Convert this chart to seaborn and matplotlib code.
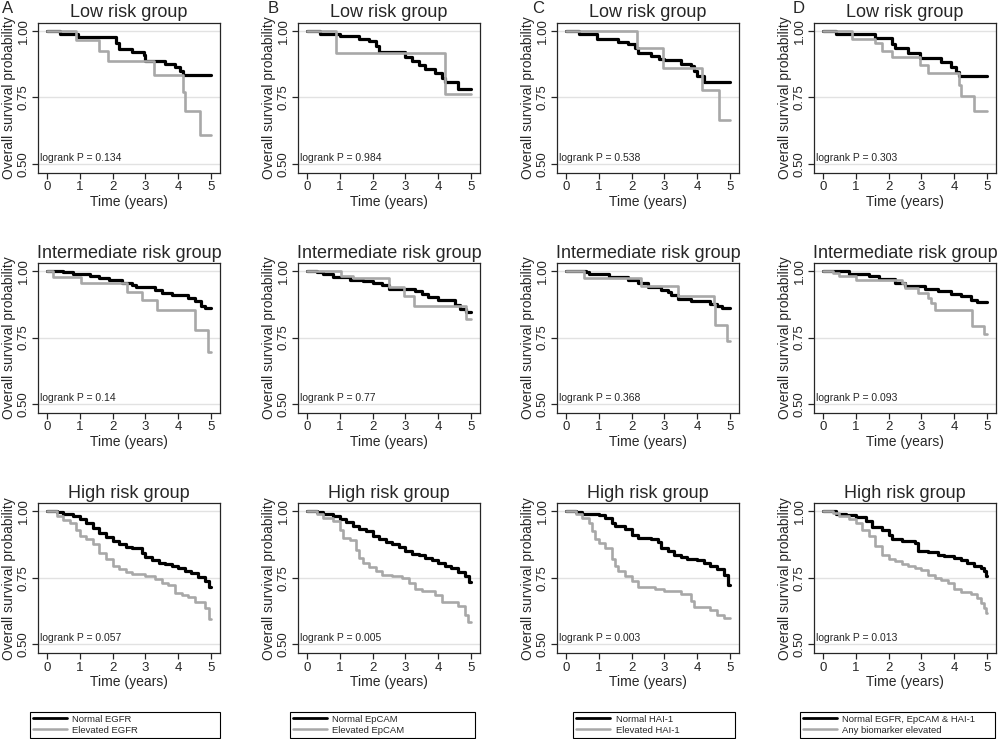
import matplotlib
matplotlib.use("Agg")
import matplotlib.pyplot as plt
from matplotlib.lines import Line2D
import seaborn as sns
import pandas as pd

# ---- data (time in years, survival probability) ----
# Low risk group
a_low_norm_t = [0, 0.4, 0.95, 2.1, 2.2, 2.6, 2.95, 3.0, 3.6, 3.9, 4.05, 4.15, 5.0]
a_low_norm_s = [1, .989, .978, .956, .933, .922, .91, .888, .876, .863, .85, .834, .834]
a_low_elev_t = [0, 0.9, 1.6, 1.85, 3.25, 4.15, 4.2, 4.65, 5.0]
a_low_elev_s = [1, .964, .924, .888, .836, .77, .698, .61, .61]

b_low_norm_t = [0, 0.4, 1.0, 1.6, 1.9, 2.1, 2.2, 3.0, 3.2, 3.4, 3.6, 3.9, 4.1, 4.2, 4.6, 5.0]
b_low_norm_s = [1, .99, .98, .97, .961, .942, .921, .902, .886, .873, .858, .842, .823, .808, .782, .782]
b_low_elev_t = [0, 0.9, 4.2, 5.0]
b_low_elev_s = [1, .917, .761, .761]

c_low_norm_t = [0, 0.4, 0.95, 1.6, 1.9, 2.1, 2.2, 2.6, 2.85, 3.0, 3.5, 3.8, 3.9, 4.0, 4.2, 5.0]
c_low_norm_s = [1, .99, .97, .96, .951, .935, .917, .907, .895, .89, .877, .867, .848, .832, .808, .808]
c_low_elev_t = [0, 2.15, 2.95, 4.15, 4.65, 5.0]
c_low_elev_s = [1, .935, .862, .777, .664, .664]

d_low_norm_t = [0, 0.4, 1.6, 2.1, 2.2, 2.6, 2.95, 3.6, 3.9, 4.05, 4.15, 5.0]
d_low_norm_s = [1, .989, .974, .952, .934, .917, .899, .883, .863, .845, .832, .832]
d_low_elev_t = [0, 0.9, 1.6, 1.8, 2.1, 2.95, 3.2, 4.15, 4.2, 4.6, 5.0]
d_low_elev_s = [1, .97, .955, .924, .902, .87, .84, .795, .754, .70, .70]

# Intermediate risk group
a_int_norm_t = [0, 0.5, 0.8, 1.3, 1.6, 1.9, 2.3, 2.6, 2.7, 3.3, 3.5, 3.8, 4.3, 4.5, 4.7, 4.8, 5.0]
a_int_norm_s = [1, .995, .989, .982, .974, .965, .957, .946, .94, .93, .917, .909, .898, .886, .87, .863, .863]
a_int_elev_t = [0, 0.2, 1.05, 2.45, 2.9, 3.35, 4.5, 4.9, 5.0]
a_int_elev_s = [1, .976, .955, .921, .89, .852, .78, .696, .696]

b_int_norm_t = [0, 0.3, 0.5, 0.8, 1.3, 1.7, 2.0, 2.3, 2.5, 3.3, 3.5, 3.7, 4.0, 4.5, 4.65, 4.85, 5.0]
b_int_norm_s = [1, .995, .989, .977, .967, .961, .955, .948, .932, .926, .914, .902, .892, .872, .856, .845, .845]
b_int_elev_t = [0, 1.05, 1.4, 2.5, 2.95, 3.25, 4.85, 5.0]
b_int_elev_s = [1, .98, .973, .94, .905, .87, .82, .82]

c_int_norm_t = [0, 0.6, 0.7, 1.3, 1.9, 2.2, 2.5, 2.9, 3.1, 3.2, 3.4, 3.8, 4.4, 4.6, 4.75, 5.0]
c_int_norm_s = [1, .995, .989, .976, .965, .955, .94, .93, .921, .911, .895, .888, .877, .867, .861, .861]
c_int_elev_t = [0, 0.55, 2.3, 3.4, 4.5, 4.55, 4.9, 5.0]
c_int_elev_s = [1, .974, .942, .905, .877, .796, .736, .736]

d_int_norm_t = [0, 0.8, 1.4, 1.7, 2.2, 2.5, 3.1, 3.5, 3.9, 4.2, 4.5, 4.7, 5.0]
d_int_norm_s = [1, .989, .98, .97, .955, .945, .932, .924, .914, .905, .892, .882, .882]
d_int_elev_t = [0, 0.3, 0.5, 1.0, 2.4, 2.5, 2.9, 3.2, 3.3, 3.4, 4.55, 4.9, 5.0]
d_int_elev_s = [1, .992, .98, .965, .955, .936, .917, .898, .88, .852, .792, .763, .763]

# High risk group
a_high_norm_t = [0, 0.3, 0.5, 0.8, 1.0, 1.2, 1.4, 1.6, 1.8, 2.0, 2.2, 2.4, 2.6, 2.9, 3.0,
                 3.2, 3.4, 3.6, 3.8, 4.0, 4.2, 4.4, 4.6, 4.8, 4.95, 5.0]
a_high_norm_s = [1, .996, .99, .981, .969, .956, .937, .919, .904, .887, .875, .866, .86, .844, .829,
                 .816, .806, .80, .796, .785, .777, .769, .752, .738, .716, .716]
a_high_elev_t = [0, 0.3, 0.5, 0.7, 0.9, 1.0, 1.2, 1.4, 1.6, 1.8, 2.0, 2.2, 2.4, 2.6, 3.0,
                 3.3, 3.5, 3.7, 3.9, 4.1, 4.3, 4.5, 4.8, 4.95, 5.0]
a_high_elev_s = [1, .981, .966, .956, .931, .906, .894, .875, .844, .819, .794, .781, .771, .765, .756,
                 .744, .731, .721, .694, .684, .676, .659, .637, .594, .594]

b_high_norm_t = [0, 0.3, 0.5, 0.8, 1.0, 1.2, 1.4, 1.6, 1.8, 2.0, 2.2, 2.4, 2.6, 2.8, 3.0,
                 3.2, 3.4, 3.6, 3.8, 4.0, 4.2, 4.4, 4.6, 4.8, 4.95, 5.0]
b_high_norm_s = [1, .996, .988, .981, .971, .959, .944, .934, .925, .906, .894, .884, .875, .866, .85,
                 .841, .834, .825, .816, .806, .796, .785, .771, .756, .734, .734]
b_high_elev_t = [0, 0.3, 0.5, 0.8, 1.0, 1.1, 1.3, 1.5, 1.6, 1.7, 1.9, 2.1, 2.3, 2.6, 2.9,
                 3.1, 3.3, 3.5, 3.9, 4.1, 4.6, 4.8, 4.9, 5.0]
b_high_elev_s = [1, .988, .975, .962, .931, .90, .89, .856, .825, .806, .79, .775, .762, .756, .75,
                 .731, .709, .70, .684, .66, .643, .611, .584, .584]

c_high_norm_t = [0, 0.3, 0.5, 1.0, 1.2, 1.4, 1.5, 1.8, 2.0, 2.2, 2.6, 2.8, 2.9, 3.1, 3.3,
                 3.5, 3.7, 4.0, 4.2, 4.4, 4.6, 4.8, 4.95, 5.0]
c_high_norm_s = [1, .996, .991, .985, .975, .956, .946, .934, .912, .90, .894, .884, .862, .85, .837,
                 .828, .821, .816, .806, .794, .781, .762, .724, .724]
c_high_elev_t = [0, 0.3, 0.5, 0.7, 0.8, 0.9, 1.0, 1.2, 1.4, 1.5, 1.6, 1.8, 2.0, 2.2, 2.7,
                 3.0, 3.5, 3.8, 3.9, 4.4, 4.6, 4.8, 5.0]
c_high_elev_s = [1, .988, .975, .956, .925, .894, .881, .862, .821, .794, .777, .756, .737, .714, .706,
                 .70, .687, .662, .64, .628, .611, .599, .599]

d_high_norm_t = [0, 0.4, 0.7, 1.0, 1.3, 1.5, 1.8, 2.0, 2.1, 2.4, 2.8, 2.9, 3.2, 3.5, 3.7,
                 4.0, 4.2, 4.4, 4.6, 4.8, 4.9, 4.97, 5.0]
d_high_norm_s = [1, .99, .985, .979, .962, .941, .929, .91, .894, .887, .881, .852, .846, .837, .831,
                 .825, .816, .806, .794, .787, .777, .758, .758]
d_high_elev_t = [0, 0.3, 0.5, 0.8, 1.0, 1.2, 1.4, 1.6, 1.8, 2.0, 2.2, 2.4, 2.6, 2.8, 3.0,
                 3.2, 3.4, 3.6, 3.8, 4.0, 4.2, 4.5, 4.7, 4.8, 4.9, 4.97, 5.0]
d_high_elev_s = [1, .994, .981, .969, .954, .931, .906, .871, .837, .821, .812, .80, .794, .787, .778,
                 .762, .75, .741, .731, .709, .696, .687, .674, .655, .637, .618, .618]

row_titles = ["Low risk group", "Intermediate risk group", "High risk group"]
col_letters = ["A", "B", "C", "D"]
pvalues = [["0.134", "0.984", "0.538", "0.303"],
           ["0.14", "0.77", "0.368", "0.093"],
           ["0.057", "0.005", "0.003", "0.013"]]
normal_labels = ["Normal EGFR", "Normal EpCAM", "Normal HAI-1", "Normal EGFR, EpCAM & HAI-1"]
elevated_labels = ["Elevated EGFR", "Elevated EpCAM", "Elevated HAI-1", "Any biomarker elevated"]

curves = [
    [(a_low_norm_t, a_low_norm_s, a_low_elev_t, a_low_elev_s),
     (b_low_norm_t, b_low_norm_s, b_low_elev_t, b_low_elev_s),
     (c_low_norm_t, c_low_norm_s, c_low_elev_t, c_low_elev_s),
     (d_low_norm_t, d_low_norm_s, d_low_elev_t, d_low_elev_s)],
    [(a_int_norm_t, a_int_norm_s, a_int_elev_t, a_int_elev_s),
     (b_int_norm_t, b_int_norm_s, b_int_elev_t, b_int_elev_s),
     (c_int_norm_t, c_int_norm_s, c_int_elev_t, c_int_elev_s),
     (d_int_norm_t, d_int_norm_s, d_int_elev_t, d_int_elev_s)],
    [(a_high_norm_t, a_high_norm_s, a_high_elev_t, a_high_elev_s),
     (b_high_norm_t, b_high_norm_s, b_high_elev_t, b_high_elev_s),
     (c_high_norm_t, c_high_norm_s, c_high_elev_t, c_high_elev_s),
     (d_high_norm_t, d_high_norm_s, d_high_elev_t, d_high_elev_s)],
]

GREY = "#a8a8a8"

sns.set_theme(style="ticks")
plt.rcParams["font.family"] = ["Liberation Sans", "DejaVu Sans"]
plt.rcParams["axes.linewidth"] = 0.9
plt.rcParams["xtick.major.width"] = 0.9
plt.rcParams["ytick.major.width"] = 0.9

fig = plt.figure(figsize=(10, 7.39), dpi=100)

col_left = [0.038, 0.298, 0.557, 0.814]
row_bottom = [0.766, 0.441, 0.116]
ax_w, ax_h = 0.182, 0.203

for r in range(3):
    for c in range(4):
        ax = fig.add_axes([col_left[c], row_bottom[r], ax_w, ax_h])
        tn, sn, te, se = curves[r][c]
        df_n = pd.DataFrame({"time": tn, "surv": sn})
        df_e = pd.DataFrame({"time": te, "surv": se})
        sns.lineplot(data=df_n, x="time", y="surv", ax=ax, color="black", lw=2.3,
                     drawstyle="steps-post", estimator=None, sort=False)
        sns.lineplot(data=df_e, x="time", y="surv", ax=ax, color=GREY, lw=1.9,
                     drawstyle="steps-post", estimator=None, sort=False)
        ax.set_xlim(-0.27, 5.27)
        ax.set_ylim(0.466, 1.03)
        ax.set_xticks([0, 1, 2, 3, 4, 5])
        ax.set_yticks([0.5, 0.75, 1.0])
        ax.set_yticklabels(["0.50", "0.75", "1.00"], rotation=90, va="center")
        ax.tick_params(labelsize=9.5, length=4, pad=2)
        ax.yaxis.grid(True, color="#e2e2e2", lw=1)
        ax.set_axisbelow(True)
        ax.set_xlabel("Time (years)", fontsize=10, labelpad=1)
        ax.set_ylabel("Overall survival probability", fontsize=10, labelpad=1)
        ax.set_title(row_titles[r], fontsize=13, pad=4)
        ax.text(-0.2, 0.505, f"logrank P = {pvalues[r][c]}", fontsize=7.5,
                ha="left", va="bottom")

# panel letters
for x, letter in zip([0.002, 0.268, 0.532, 0.793], col_letters):
    fig.text(x, 0.999, letter, fontsize=12, ha="left", va="top")

# legends under each column
leg_boxes = [(0.030, 0.19), (0.290, 0.185), (0.573, 0.162), (0.800, 0.195)]
for c in range(4):
    handles = [Line2D([], [], color="black", lw=2.0),
               Line2D([], [], color=GREY, lw=1.8)]
    x0, w = leg_boxes[c]
    leg = fig.legend(handles, [normal_labels[c], elevated_labels[c]],
                     loc="lower left", bbox_to_anchor=(x0, 0.002, w, 0.04),
                     bbox_transform=fig.transFigure, mode="expand",
                     fontsize=6.8, handlelength=3.6, handletextpad=0.6,
                     borderpad=0.3, labelspacing=0.2, fancybox=False,
                     framealpha=1, edgecolor="black", borderaxespad=0)
    leg.get_frame().set_linewidth(0.8)

fig.savefig("out.png", dpi=100)
